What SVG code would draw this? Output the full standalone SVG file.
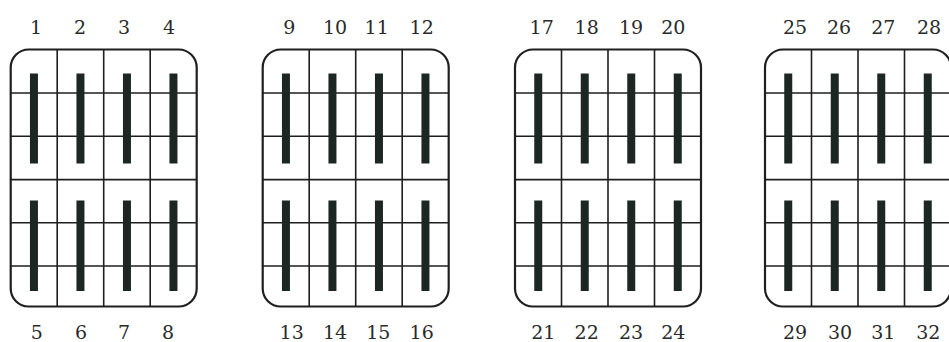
<svg xmlns="http://www.w3.org/2000/svg" xmlns:xlink="http://www.w3.org/1999/xlink" width="949" height="342" viewBox="0 0 949 342">
<style>
.frame{fill:#fff;stroke:#1f1f1f;stroke-width:2.2}
.grid{stroke:#1f1f1f;stroke-width:1.6;fill:none}
.bar{fill:#1c2723}
.lbl{font-family:"DejaVu Serif","Liberation Serif",serif;font-size:19px;fill:#2a2a2a;text-anchor:middle}
</style>
<defs>
<g id="panel">
<rect class="frame" x="0" y="0" width="186" height="257" rx="18" ry="18"/>
<path class="grid" d="M46.5 0V257M93 0V257M139.5 0V257M0 43.5H186M0 86.8H186M0 130.1H186M0 173.2H186M0 216.5H186"/>
<rect class="bar" x="19.25" y="24" width="8" height="90"/>
<rect class="bar" x="65.75" y="24" width="8" height="90"/>
<rect class="bar" x="112.25" y="24" width="8" height="90"/>
<rect class="bar" x="158.75" y="24" width="8" height="90"/>
<rect class="bar" x="19.25" y="151" width="8" height="90.5"/>
<rect class="bar" x="65.75" y="151" width="8" height="90.5"/>
<rect class="bar" x="112.25" y="151" width="8" height="90.5"/>
<rect class="bar" x="158.75" y="151" width="8" height="90.5"/>
</g>
</defs>
<rect width="949" height="342" fill="#fff"/>
<g id="block1">
<use xlink:href="#panel" href="#panel" x="10.7" y="49.5"/>
<text class="lbl" x="36" y="33.5">1</text><text class="lbl" x="80" y="33.5">2</text><text class="lbl" x="124" y="33.5">3</text><text class="lbl" x="169" y="33.5">4</text>
<text class="lbl" x="36.7" y="338.5">5</text><text class="lbl" x="81" y="338.5">6</text><text class="lbl" x="124" y="338.5">7</text><text class="lbl" x="168" y="338.5">8</text>
</g>
<g id="block2">
<use xlink:href="#panel" href="#panel" x="262.7" y="49.5"/>
<text class="lbl" x="289.3" y="33.5">9</text><text class="lbl" x="335" y="33.5">10</text><text class="lbl" x="376.7" y="33.5">11</text><text class="lbl" x="421.7" y="33.5">12</text>
<text class="lbl" x="291.7" y="338.5">13</text><text class="lbl" x="335" y="338.5">14</text><text class="lbl" x="378.3" y="338.5">15</text><text class="lbl" x="421.7" y="338.5">16</text>
</g>
<g id="block3">
<use xlink:href="#panel" href="#panel" x="515" y="49.5"/>
<text class="lbl" x="541.7" y="33.5">17</text><text class="lbl" x="586.7" y="33.5">18</text><text class="lbl" x="631" y="33.5">19</text><text class="lbl" x="673.3" y="33.5">20</text>
<text class="lbl" x="543.3" y="338.5">21</text><text class="lbl" x="586.7" y="338.5">22</text><text class="lbl" x="631" y="338.5">23</text><text class="lbl" x="673.3" y="338.5">24</text>
</g>
<g id="block4">
<use xlink:href="#panel" href="#panel" x="765" y="49.5"/>
<text class="lbl" x="795" y="33.5">25</text><text class="lbl" x="839" y="33.5">26</text><text class="lbl" x="883.3" y="33.5">27</text><text class="lbl" x="929" y="33.5">28</text>
<text class="lbl" x="795" y="338.5">29</text><text class="lbl" x="840" y="338.5">30</text><text class="lbl" x="883.3" y="338.5">31</text><text class="lbl" x="928.3" y="338.5">32</text>
</g>
<g id="connectors"/>
</svg>
